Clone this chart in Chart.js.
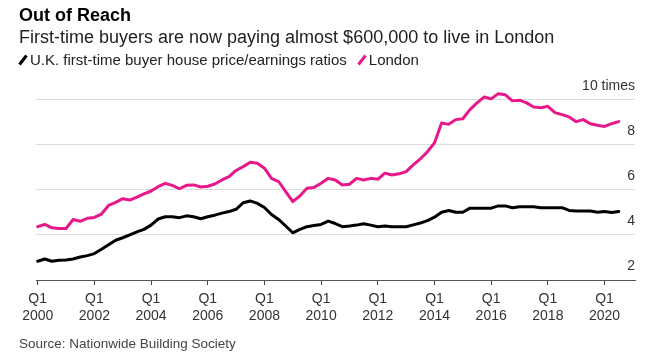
<!DOCTYPE html>
<html>
<head>
<meta charset="utf-8">
<script src="https://cdn.jsdelivr.net/npm/chart.js@4"></script>
<style>
  html, body { margin: 0; padding: 0; background: #fff; }
  body { width: 655px; height: 353px; position: relative; overflow: hidden;
         font-family: "Liberation Sans", Arial, sans-serif; }
  #c { position: absolute; left: 0; top: 0; }
  .t { position: absolute; white-space: nowrap; line-height: 1; }
  #title { left: 19px; top: 5.5px; font-size: 18px; font-weight: bold; color: #000; }
  #sub { left: 19px; top: 27.5px; font-size: 18px; color: #222; }
  #legend { left: 18px; top: 52px; font-size: 15px; color: #222; display: flex; align-items: center; }
  #legend .sw { display: inline-block; width: 10px; height: 12px; margin-right: 2px; }
  #legend .item { display: inline-flex; align-items: center; margin-right: 10px; }
  #src { left: 19px; top: 336.5px; font-size: 13.5px; color: #444; }
</style>
</head>
<body>
<canvas id="c" width="655" height="353"></canvas>
<div class="t" id="title">Out of Reach</div>
<div class="t" id="sub">First-time buyers are now paying almost $600,000 to live in London</div>
<div class="t" id="legend">
  <span class="item"><svg class="sw" viewBox="0 0 10 12"><line x1="1.5" y1="10.5" x2="8.5" y2="1.5" stroke="#000" stroke-width="3" stroke-linecap="butt"/></svg><span>U.K. first-time buyer house price/earnings ratios</span></span>
  <span class="item"><svg class="sw" viewBox="0 0 10 12"><line x1="1.5" y1="10.5" x2="8.5" y2="1.5" stroke="#e8178a" stroke-width="3" stroke-linecap="butt"/></svg><span>London</span></span>
</div>
<div class="t" id="src">Source: Nationwide Building Society</div>
<script>
// Quarterly data, Q1 2000 .. Q3 2020
const startYear = 2000;
const ukRatio = [
  2.83, 2.93, 2.83, 2.87, 2.89, 2.93, 3.02, 3.08, 3.17, 3.36,
  3.56, 3.76, 3.87, 4.00, 4.13, 4.24, 4.43, 4.70, 4.80, 4.80,
  4.76, 4.84, 4.80, 4.71, 4.80, 4.87, 4.96, 5.03, 5.13, 5.42,
  5.50, 5.39, 5.21, 4.90, 4.68, 4.39, 4.09, 4.24, 4.36, 4.41,
  4.46, 4.61, 4.50, 4.36, 4.39, 4.43, 4.49, 4.43, 4.36, 4.39,
  4.36, 4.36, 4.36, 4.44, 4.52, 4.63, 4.78, 5.00, 5.08, 5.00,
  5.00, 5.18, 5.18, 5.18, 5.18, 5.28, 5.28, 5.20, 5.24, 5.24,
  5.24, 5.20, 5.20, 5.20, 5.20, 5.08, 5.05, 5.05, 5.05, 5.00,
  5.03, 4.99, 5.03
];
const londonRatio = [
  4.36, 4.46, 4.31, 4.28, 4.28, 4.68, 4.60, 4.73, 4.77, 4.92,
  5.30, 5.44, 5.60, 5.54, 5.67, 5.81, 5.94, 6.13, 6.28, 6.19,
  6.04, 6.19, 6.21, 6.12, 6.15, 6.25, 6.43, 6.58, 6.85, 7.02,
  7.21, 7.17, 6.95, 6.50, 6.36, 5.91, 5.47, 5.72, 6.06, 6.10,
  6.28, 6.50, 6.43, 6.21, 6.24, 6.50, 6.43, 6.50, 6.46, 6.73,
  6.65, 6.70, 6.80, 7.10, 7.36, 7.68, 8.07, 8.95, 8.89, 9.10,
  9.14, 9.54, 9.84, 10.10, 10.02, 10.25, 10.20, 9.93, 9.96, 9.84,
  9.66, 9.63, 9.69, 9.41, 9.32, 9.22, 9.01, 9.10, 8.92, 8.85,
  8.80, 8.92, 9.01
];
const xTickYears = [2000, 2002, 2004, 2006, 2008, 2010, 2012, 2014, 2016, 2018, 2020];
const yTickValues = [2, 4, 6, 8, 10];

const quarterLabels = ukRatio.map((_, i) => (startYear + Math.floor(i / 4)) + ' Q' + (i % 4 + 1));
const toPoints = arr => arr.map((v, i) => ({ x: startYear + i / 4, y: v, q: quarterLabels[i] }));

const FONT = '"Liberation Sans", Arial, sans-serif';

new Chart(document.getElementById('c'), {
  type: 'line',
  data: {
    datasets: [
      { label: 'U.K. first-time buyer house price/earnings ratios', data: toPoints(ukRatio),
        borderColor: '#000', borderWidth: 3 },
      { label: 'London', data: toPoints(londonRatio),
        borderColor: '#e8178a', borderWidth: 3 }
    ]
  },
  options: {
    responsive: false,
    animation: false,
    devicePixelRatio: 1,
    layout: { autoPadding: false, padding: { left: 36, right: 20, top: 88, bottom: 13 } },
    plugins: { legend: { display: false }, tooltip: { enabled: false }, title: { display: false } },
    elements: {
      point: { radius: 0 },
      line: { tension: 0, borderJoinStyle: 'round', borderCapStyle: 'round', fill: false }
    },
    scales: {
      x: {
        type: 'linear',
        min: 1999.94,
        max: 2021.075,
        afterBuildTicks: s => { s.ticks = xTickYears.map(v => ({ value: v })); },
        afterFit: s => { s.height = 60; },
        grid: { drawOnChartArea: false, drawTicks: true, tickLength: 5, color: '#444', lineWidth: 1 },
        border: { display: true, color: '#555', width: 1 },
        ticks: {
          autoSkip: false, maxRotation: 0, minRotation: 0, padding: 6,
          color: '#333', font: { family: FONT, size: 14 },
          callback: v => ['Q1', String(v)]
        }
      },
      y: {
        position: 'right',
        min: 2,
        max: 10.5,
        afterBuildTicks: s => { s.ticks = yTickValues.map(v => ({ value: v })); },
        afterFit: s => { s.width = 0; },
        grid: {
          drawTicks: false, lineWidth: 1,
          color: c => (c.tick && c.tick.value === 2) ? 'rgba(0,0,0,0)' : '#dcdcdc'
        },
        border: { display: false },
        ticks: {
          mirror: true, padding: 0, labelOffset: -13.5,
          color: '#333', font: { family: FONT, size: 14 },
          callback: v => v === 10 ? '10 times' : String(v)
        }
      }
    }
  }
});
</script>
</body>
</html>
